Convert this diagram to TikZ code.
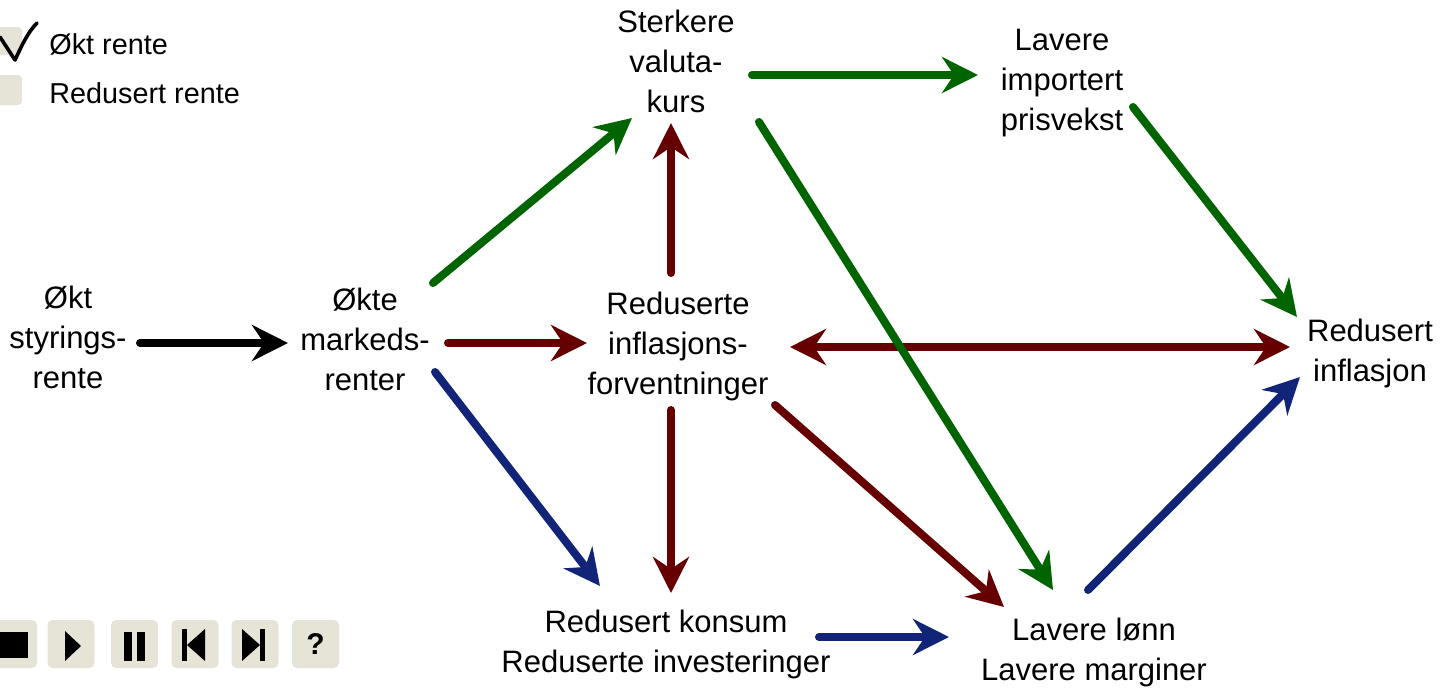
\documentclass[tikz,border=0pt]{standalone}
\usepackage{fontspec}
\setmainfont{Liberation Sans}
\usetikzlibrary{positioning,calc,arrows.meta}
\definecolor{gronn}{RGB}{0,100,0}
\definecolor{rod}{RGB}{102,0,0}
\definecolor{bla}{RGB}{17,36,120}
\definecolor{beige}{RGB}{230,227,215}
\begin{document}
\begin{tikzpicture}[x=0.5pt,y=-0.5pt,
    txt/.style={align=center,inner sep=0pt,font=\fontsize{15.5}{20}\selectfont},
    leg/.style={anchor=west,inner sep=0pt,font=\fontsize{14.4}{16}\selectfont},
    pil/.style={line width=4pt,line cap=round,-{Stealth[length=18pt,width=18pt,inset=6pt]}},
    dobbel/.style={line width=4pt,{Stealth[length=18pt,width=18pt,inset=6pt]}-{Stealth[length=18pt,width=18pt,inset=6pt]}},
    knapp/.style={fill=beige,rounded corners=2.5pt,minimum width=23.5pt,minimum height=24pt,inner sep=0pt}]
      \useasboundingbox (0,0) rectangle (1452,687);
      \fill[beige,rounded corners=2pt] (-10,27) rectangle (22,55);
      \fill[beige,rounded corners=2pt] (-10,75) rectangle (22,105);
      \draw[line width=1.8pt,line join=round,line cap=round] (0,37) -- (15,60) .. controls (22,45) and (28,32) .. (37,23);
      \node[leg] (okt) at (49,44) {Økt rente};
      \node[leg] (redusert) at (49,93) {Redusert rente};

      \node[txt] (styring) at (68,337) {Økt\\styrings-\\rente};
      \node[txt] (markeds) at (365,339) {Økte\\markeds-\\renter};
      \node[txt] (forvent) at (678,346) {Reduserte\\inflasjons-\\forventninger};
      \node[txt] (valuta) at (676,61) {Sterkere\\valuta-\\kurs};
      \node[txt] (import) at (1062,83) {Lavere\\importert\\prisvekst};
      \node[txt] (inflasjon) at (1370,353) {Redusert\\inflasjon};
      \node[txt] (konsum) at (666,644) {Redusert konsum\\Reduserte investeringer};
      \node[txt] (lonn) at (1094,652) {Lavere lønn\\Lavere marginer};

      \draw[pil] ($(styring)+(72,6)$) -- ($(markeds)+(-77,4)$);
      \draw[pil,rod] ($(markeds)+(83,4)$) -- ($(forvent)+(-91,-3)$);
      \draw[pil,gronn] ($(markeds)+(68,-56)$) -- ($(valuta)+(-44,57)$);
      \draw[pil,bla] ($(markeds)+(70,33)$) -- ($(konsum)+(-66,-58)$);
      \draw[pil,rod] ($(forvent)+(-7,-73)$) -- ($(valuta)+(-5,62)$);
      \draw[pil,rod] ($(forvent)+(-7,64)$) -- ($(konsum)+(5,-51)$);
      \draw[dobbel,rod] ($(forvent)+(112,1)$) -- ($(inflasjon)+(-80,-6)$);
      \draw[pil,rod] ($(forvent)+(97,59)$) -- ($(lonn)+(-90,-45)$);
      \draw[pil,gronn] ($(valuta)+(76,14)$) -- ($(import)+(-84,-8)$);
      \draw[pil,gronn] ($(valuta)+(83,61)$) -- ($(lonn)+(-41,-62)$);
      \draw[pil,gronn] ($(import)+(71,24)$) -- ($(inflasjon)+(-73,-36)$);
      \draw[pil,bla] ($(konsum)+(153,-7)$) -- ($(lonn)+(-145,-15)$);
      \draw[pil,bla] ($(lonn)+(-6,-62)$) -- ($(inflasjon)+(-70,24)$);

      \node[knapp] (stopp) at (13.5,644) {};
      \node[knapp] (spill) at (71,644) {};
      \node[knapp] (pause) at (134.5,644) {};
      \node[knapp] (forrige) at (195,644) {};
      \node[knapp] (neste) at (255,644) {};
      \node[knapp,font=\bfseries\fontsize{15}{15}\selectfont] (hjelp) at (315.5,644) {?};
      \fill (-1,632) rectangle (28,658);
      \fill (65,631) -- (81,646) -- (65,661) -- cycle;
      \fill (124,632) rectangle (132,661);
      \fill (137,632) rectangle (145,661);
      \fill (182,629) rectangle (187,661);
      \fill (205,629) -- (187,645) -- (205,661) -- cycle;
      \fill (242,629) -- (260,645) -- (242,661) -- cycle;
      \fill (260,629) rectangle (265,661);
\end{tikzpicture}
\end{document}
